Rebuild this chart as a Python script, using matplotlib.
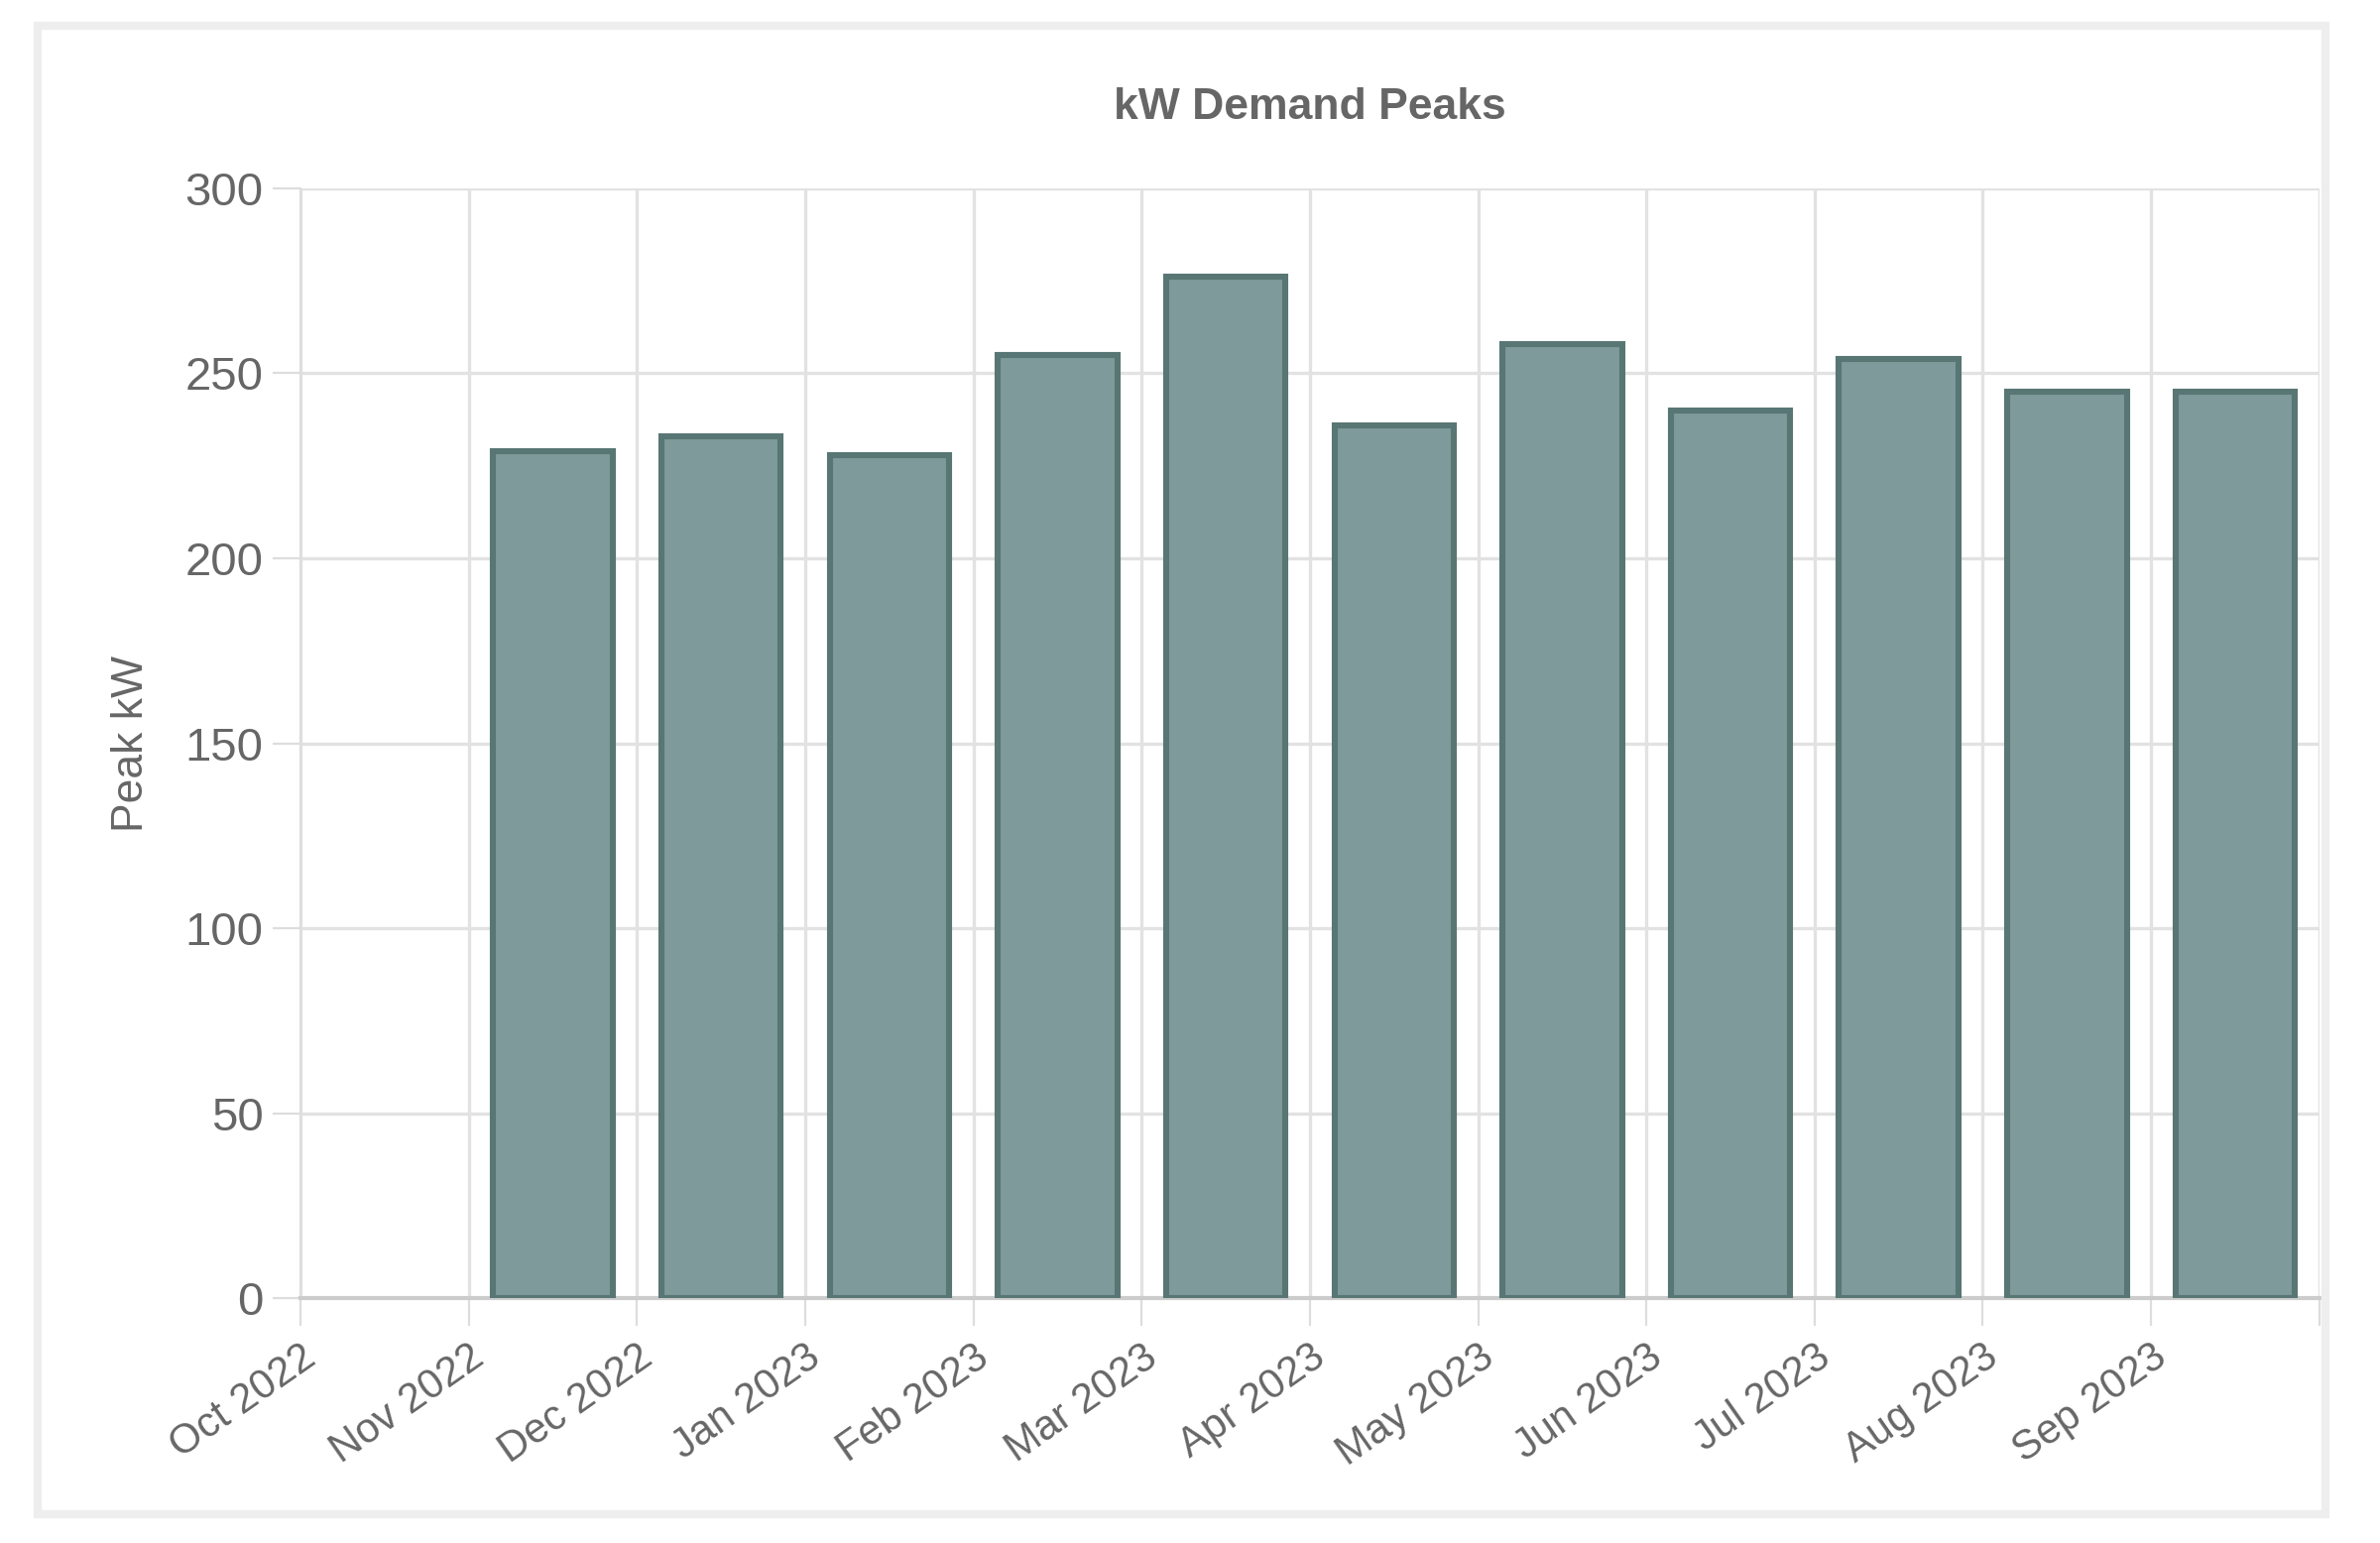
import matplotlib
matplotlib.use("Agg")
import matplotlib.pyplot as plt
from matplotlib.patches import Rectangle

months = ["Oct 2022","Nov 2022","Dec 2022","Jan 2023","Feb 2023","Mar 2023",
          "Apr 2023","May 2023","Jun 2023","Jul 2023","Aug 2023","Sep 2023"]
peaks = [None,229,233,228,255,276,236,258,240,254,245,245]

plt.rcParams['font.family'] = ['Liberation Sans', 'DejaVu Sans']
fig = plt.figure(figsize=(12, 7.78), dpi=200)
fig.patches.append(Rectangle((25/1568, 1-997/1016), (1532-25)/1568, (997-17)/1016,
                             transform=fig.transFigure, fill=False, edgecolor='#eeeeee', lw=3))
ax = fig.add_axes([198/1568, 1-855/1016, (1528-198)/1568, (855-124)/1016])

xs = [i + 0.5 for i, v in enumerate(peaks) if v is not None]
vs = [v for v in peaks if v is not None]
ax.bar(xs, vs, width=0.71, color='#7f9a9a', edgecolor='#587674', linewidth=2.2, zorder=3)

ax.set_xlim(0, 12)
ax.set_ylim(0, 300)
ax.set_xticks(range(13))
ax.set_xticklabels(months + [""], rotation=35, ha='right', rotation_mode='anchor',
                   fontsize=15, color='#666666')
ax.set_yticks(range(0, 301, 50))
ax.tick_params(axis='y', labelsize=17, colors='#666666', length=10, color='#dddddd')
ax.tick_params(axis='x', length=10, color='#dddddd', pad=4)
for lbl in ax.get_yticklabels():
    lbl.set_color('#666666')
ax.grid(True, color='#e2e2e2', lw=1.2, zorder=0)
for s in ['top', 'right']:
    ax.spines[s].set_visible(False)
ax.spines['left'].set_color('#dddddd')
ax.spines['bottom'].set_color('#cccccc')
ax.spines['bottom'].set_linewidth(1.5)
ax.set_ylabel("Peak kW", fontsize=16, color='#666666', labelpad=12)
fig.text((198+1528)/2/1568, 1-71/1016, "kW Demand Peaks", ha='center', va='center',
         fontsize=16, fontweight='bold', color='#666666')
fig.savefig("out.png", dpi=200)
